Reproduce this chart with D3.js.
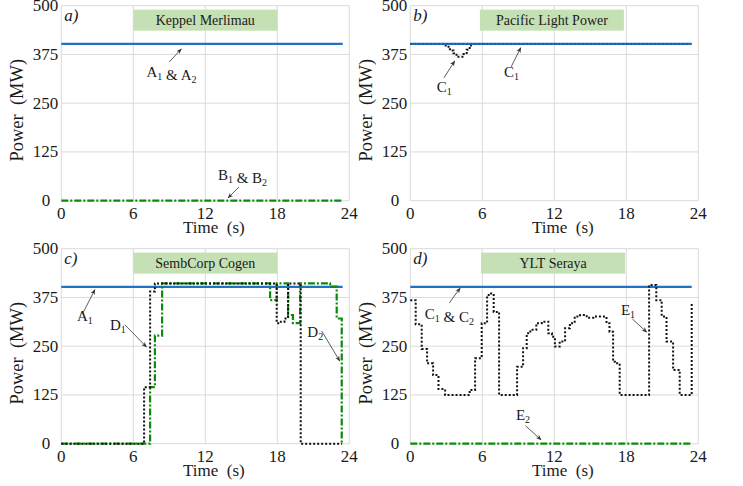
<!DOCTYPE html>
<html>
<head>
<meta charset="utf-8">
<script src="https://cdn.jsdelivr.net/npm/d3@7"></script>
<style>
  body { margin: 0; background: #fff; }
</style>
</head>
<body>
<svg id="chart" width="743" height="486" font-family="'Liberation Serif', 'Times New Roman', Times, serif" fill="#1a1a1a"></svg>
<script>
// DATA
const xTicks = [0, 6, 12, 18, 24]
const yTicks = [0, 125, 250, 375, 500]
const panelLetters = ['a)', 'b)', 'c)', 'd)']
const plantNames = ['Keppel Merlimau', 'Pacific Light Power', 'SembCorp Cogen', 'YLT Seraya']
const boxSpans = [[6, 18], [5.8, 17.8], [6, 18], [5.9, 17.9]]
const boxLevels = [436, 490]

// step series, [time s, power MW]
const keppelA = [[0, 402], [23.45, 402]]
const keppelB = [[0, 0], [23.45, 0]]
const pacificBlue = [[0, 402], [23.45, 402]]
const pacificC1 = [[0, 402], [2.95, 395], [3.3, 385], [3.6, 378], [3.85, 369], [4.45, 376], [4.7, 387], [4.95, 398], [5.05, 402], [23.45, 402]]
const sembA1 = [[0, 402], [23.45, 402]]
const sembD1 = [[0, 0], [6.9, 145], [7.4, 390], [7.8, 411], [17.95, 309], [18.3, 313], [18.6, 321], [18.9, 411], [19.95, 0], [23.4, 0]]
const sembD2 = [[0, 0], [7.4, 145], [7.8, 277], [8.4, 411], [17.4, 368], [17.95, 411], [18.9, 330], [19.3, 309], [19.9, 411], [22.4, 403], [22.95, 321], [23.37, 0], [23.45, 0]]
const seraC = [[0, 402], [23.45, 402]]
const seraE1 = [[0, 368], [0.45, 306], [0.95, 243], [1.4, 206], [1.9, 176], [2.35, 140], [2.9, 125], [4.95, 138], [5.4, 219],
  [5.95, 309], [6.4, 381], [6.65, 385], [6.95, 338], [7.4, 125], [8.9, 197], [9.4, 245], [9.7, 283], [10.0, 292], [10.5, 309],
  [10.95, 313], [11.5, 283], [11.8, 274], [12.05, 249], [12.45, 262], [12.9, 296], [13.3, 309], [13.7, 326], [14.15, 330],
  [14.7, 323], [15.25, 326], [16.35, 309], [16.6, 287], [16.9, 210], [17.05, 206], [17.45, 125], [19.9, 407], [20.5, 368],
  [20.95, 326], [21.35, 262], [21.9, 189], [22.45, 125], [23.45, 360]]
const seraE2 = [[0, 0], [23.45, 0]]

// annotations: label parts, text anchor (t, MW), arrow from/to (t, MW)
const notes = [
  [{ parts: [['A', '1'], ' & ', ['A', '2']], at: [7.1, 317], arrow: [[9.0, 356], [10.0, 389]] },
   { parts: [['B', '1'], ' & ', ['B', '2']], at: [13.05, 53], arrow: [[14.8, 35], [13.9, 7]] }],
  [{ parts: [['C', '1']], at: [2.2, 279], arrow: [[2.8, 315], [3.7, 358]] },
   { parts: [['C', '1']], at: [7.8, 317], arrow: [[8.4, 343], [9.2, 392]] }],
  [{ parts: [['A', '1']], at: [1.3, 315], arrow: [[1.8, 335], [2.8, 395]] },
   { parts: [['D', '1']], at: [4.05, 292], arrow: [[5.3, 305], [7.1, 248]] },
   { parts: [['D', '2']], at: [20.5, 274], arrow: [[21.7, 289], [23.2, 212]] }],
  [{ parts: [['C', '1'], ' & ', ['C', '2']], at: [1.2, 320], arrow: [[3.25, 361], [4.15, 399]] },
   { parts: [['E', '1']], at: [17.55, 331], arrow: [[18.5, 320], [19.7, 286]] },
   { parts: [['E', '2']], at: [8.8, 60], arrow: [[9.6, 46], [10.9, 10]] }]
]

// COLORS
const blue = '#1f72c4'
const green = '#0b8a0b'
const black = '#111'
const grid = '#dadada'
const boxFill = '#c5e0b4'

const styles = {
  blue: { stroke: blue, width: 2.4, dash: null },
  dot: { stroke: black, width: 2, dash: '2,2' },
  dotFaint: { stroke: black, width: 1.2, dash: '2,2', opacity: 0.35 },
  green: { stroke: green, width: 2.2, dash: '7,2,2,2' }
}

const panels = [
  { left: 61.3, top: 5.7, series: [[keppelB, 'green'], [keppelA, 'blue']] },
  { left: 410.3, top: 5.7, series: [[pacificC1, 'dot'], [pacificBlue, 'blue'], [pacificBlue, 'dotFaint']] },
  { left: 61.3, top: 248.7, series: [[sembA1, 'blue'], [sembD2, 'green'], [sembD1, 'dot']] },
  { left: 410.3, top: 248.7, series: [[seraE2, 'green'], [seraC, 'blue'], [seraE1, 'dot']] }
]

const pw = 288, ph = 195

const svg = d3.select('#chart')

const defs = svg.append('defs')
defs.append('marker')
    .attr('id', 'arr')
    .attr('viewBox', '0 0 10 10')
    .attr('refX', 9).attr('refY', 5)
    .attr('markerWidth', 7).attr('markerHeight', 7)
    .attr('orient', 'auto')
  .append('path')
    .attr('d', 'M0,1 L10,5 L0,9 L3,5 Z')
    .attr('fill', '#333')

panels.forEach(function(p, i) {
  let x = d3.scaleLinear().domain([0, 24]).range([0, pw])
  let y = d3.scaleLinear().domain([0, 500]).range([ph, 0])

  let g = svg.append('g').attr('transform', `translate(${p.left},${p.top})`)

  // grid
  g.selectAll('line.vg').data(xTicks).enter().append('line')
      .attr('x1', d => x(d)).attr('x2', d => x(d))
      .attr('y1', 0).attr('y2', ph)
      .attr('stroke', grid).attr('stroke-width', 1)
  g.selectAll('line.hg').data(yTicks).enter().append('line')
      .attr('y1', d => y(d)).attr('y2', d => y(d))
      .attr('x1', 0).attr('x2', pw)
      .attr('stroke', grid).attr('stroke-width', 1)

  // tick labels
  g.selectAll('text.xt').data(xTicks).enter().append('text')
      .attr('x', d => x(d)).attr('y', ph + 18)
      .attr('text-anchor', 'middle')
      .attr('font-size', 17)
      .text(d => d)
  g.selectAll('text.yt').data(yTicks).enter().append('text')
      .attr('x', d => d === 0 ? -11 : -3).attr('y', d => y(d) + 5.5)
      .attr('text-anchor', 'end')
      .attr('font-size', 17)
      .text(d => d)

  // axis titles
  g.append('text')
      .attr('x', x(12) + 8.5).attr('y', ph + 32.5)
      .attr('text-anchor', 'middle')
      .attr('font-size', 17)
      .attr('xml:space', 'preserve')
      .text('Time  (s)')
  g.append('text')
      .attr('transform', `translate(${-38},${ph / 2 + 7}) rotate(-90)`)
      .attr('text-anchor', 'middle')
      .attr('font-size', 18.5)
      .attr('xml:space', 'preserve')
      .text('Power  (MW)')

  // plant name box
  let span = boxSpans[i]
  g.append('rect')
      .attr('x', x(span[0])).attr('width', x(span[1]) - x(span[0]))
      .attr('y', y(boxLevels[1])).attr('height', y(boxLevels[0]) - y(boxLevels[1]))
      .attr('fill', boxFill)
  g.append('text')
      .attr('x', (x(span[0]) + x(span[1])) / 2)
      .attr('y', (y(boxLevels[0]) + y(boxLevels[1])) / 2 + 5)
      .attr('text-anchor', 'middle')
      .attr('font-size', 14)
      .text(plantNames[i])

  g.append('text')
      .attr('x', 3).attr('y', 15)
      .attr('font-size', 17).attr('font-style', 'italic')
      .text(panelLetters[i])

  // series
  let line = d3.line()
      .x(d => x(d[0])).y(d => y(d[1]))
      .curve(d3.curveStepAfter)
  p.series.forEach(function(s) {
    let st = styles[s[1]]
    g.append('path')
        .attr('d', line(s[0]))
        .attr('fill', 'none')
        .attr('stroke', st.stroke)
        .attr('stroke-width', st.width)
        .attr('stroke-dasharray', st.dash)
        .attr('opacity', st.opacity || 1)
  })

  // annotations
  notes[i].forEach(function(n) {
    let t = g.append('text')
        .attr('x', x(n.at[0])).attr('y', y(n.at[1]))
        .attr('font-size', 15)
        .attr('xml:space', 'preserve')
    n.parts.forEach(function(part) {
      if (typeof part === 'string') {
        t.append('tspan').text(part)
      } else {
        t.append('tspan').text(part[0])
        t.append('tspan').attr('dy', 3).attr('font-size', 10).text(part[1])
        t.append('tspan').attr('dy', -3).text('')
      }
    })
    g.append('line')
        .attr('x1', x(n.arrow[0][0])).attr('y1', y(n.arrow[0][1]))
        .attr('x2', x(n.arrow[1][0])).attr('y2', y(n.arrow[1][1]))
        .attr('stroke', '#333').attr('stroke-width', 0.8)
        .attr('marker-end', 'url(#arr)')
  })
})
</script>
</body>
</html>
